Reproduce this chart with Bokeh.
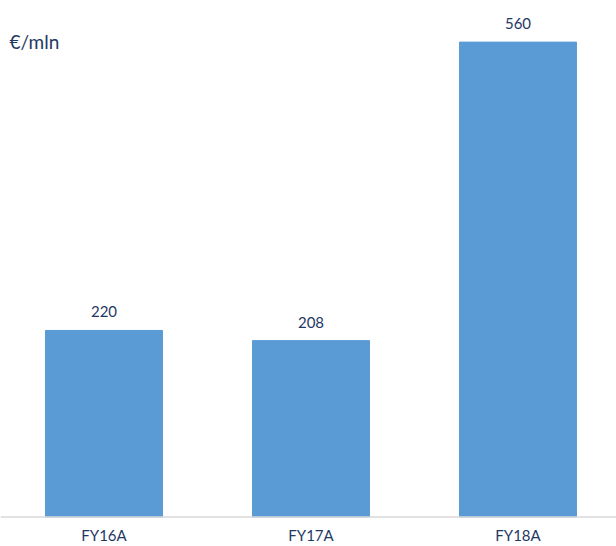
from bokeh.plotting import figure
from bokeh.models import Range1d, Label, ColumnDataSource, LabelSet, Span
from bokeh.core.properties import value
from bokeh.embed import file_html
from bokeh.resources import INLINE

categories = ["FY16A", "FY17A", "FY18A"]
values = [220, 208, 560]
unit_label = "€/mln"

FONT = "Lato"
NAVY = "#1f3864"
BAR = "#5b9bd5"

PX_PER_UNIT = 0.848
Y_TOP = 516.5 / PX_PER_UNIT
xs = list(range(len(categories)))
src = ColumnDataSource(dict(x=xs, top=values, lbl=[str(v) for v in values],
                            cat=categories, zero=[0] * len(xs)))

p = figure(width=616, height=546, output_backend="svg", toolbar_location=None,
           x_range=Range1d(-0.5, -0.5 + 616 / 207),
           y_range=Range1d(Y_TOP - 546 / PX_PER_UNIT, Y_TOP),
           min_border_left=0, min_border_right=0, min_border_top=0, min_border_bottom=0)
p.outline_line_color = None
p.background_fill_color = "white"
p.border_fill_color = "white"
p.grid.grid_line_color = None
p.axis.visible = False

p.vbar(x="x", top="top", bottom=0, width=0.565, color=BAR, source=src)
p.add_layout(Span(location=0, dimension="width", line_color="#d9d9d9", line_width=1.5))

p.add_layout(LabelSet(x="x", y="top", text="lbl", source=src, text_align="center",
                      text_baseline="alphabetic", y_offset=13, text_font=value(FONT),
                      text_font_size=value("15px"), text_color=value(NAVY)))

p.add_layout(LabelSet(x="x", y="zero", text="cat", source=src, text_align="center",
                      text_baseline="alphabetic", y_offset=-24, text_font=value(FONT),
                      text_font_size=value("15px"), text_color=value(NAVY)))

p.add_layout(Label(x=-0.5 + 9 / 207, y=Y_TOP - 41 / PX_PER_UNIT, text=unit_label,
                   text_font=FONT, text_font_size="19px", text_color=NAVY,
                   text_baseline="alphabetic", text_align="left"))

open("out.html", "w").write(file_html(p, INLINE))
